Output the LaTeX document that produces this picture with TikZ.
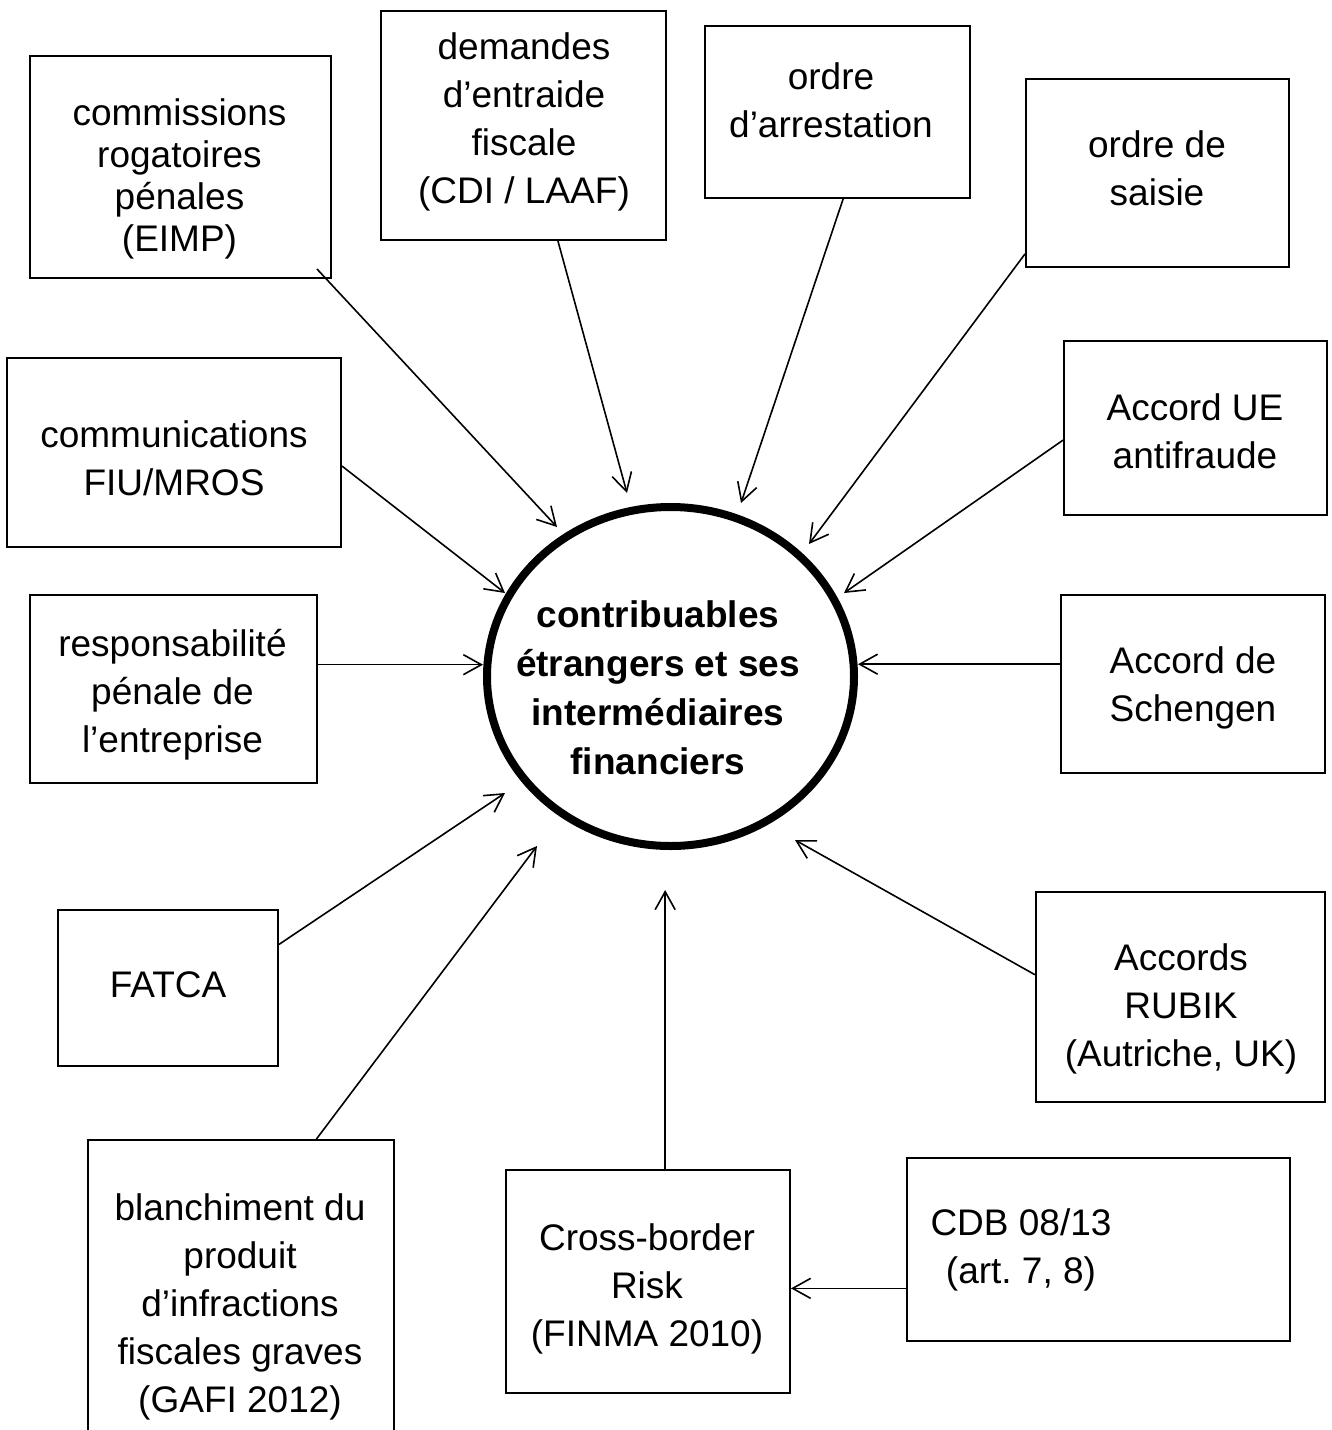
\documentclass[tikz,border=0pt]{standalone}
\usepackage{fontspec}
\setmainfont{Liberation Sans}
\usetikzlibrary{arrows.meta,calc,shapes.geometric}
% line struts: equal room above and below the visual middle of a line
\newcommand{\lnA}{\rule[-11.5pt]{0pt}{48pt}}
\newcommand{\lnB}{\rule[-8.5pt]{0pt}{42pt}}
\newcommand{\lnC}{\rule[-12pt]{0pt}{49pt}}
\begin{document}
\begin{tikzpicture}[x=1pt,y=-1pt,
  frame/.style={draw, line width=2pt, inner sep=0pt},
  txt/.style={inner sep=0pt, align=center, font=\fontsize{37}{48}\selectfont},
  txtB/.style={inner sep=0pt, align=center, font=\fontsize{37}{42}\selectfont},
  arr/.style={line width=1.6pt, -{Straight Barb[length=18pt,width=20pt,line width=1.6pt]}}]
\path[use as bounding box] (0,0) rectangle (1332,1430);
\clip (0,0) rectangle (1332,1430);

% central ellipse
\node[draw, ellipse, line width=8pt, minimum width=367pt, minimum height=339pt] (ctr) at (670.5,676.5) {};
\node[txt, font=\fontsize{37}{49}\selectfont\bfseries] (ctr-t) at (658,688)
  {\lnC contribuables\\\lnC étrangers et ses\\\lnC intermédiaires\\\lnC financiers};

% frames
\node[frame, minimum width=301pt, minimum height=222pt] (com) at (180.5,167) {};
\node[frame, minimum width=285pt, minimum height=229pt] (dem) at (523.5,125.5) {};
\node[frame, minimum width=265pt, minimum height=172pt] (ord) at (837.5,112) {};
\node[frame, minimum width=263pt, minimum height=188pt] (sai) at (1157.5,173) {};
\node[frame, minimum width=263pt, minimum height=174pt] (ue) at (1195.5,428) {};
\node[frame, minimum width=264pt, minimum height=178pt] (sch) at (1193,684) {};
\node[frame, minimum width=289pt, minimum height=210pt] (rub) at (1180.5,997) {};
\node[frame, minimum width=383pt, minimum height=183pt] (cdb) at (1098.5,1249.5) {};
\node[frame, minimum width=284pt, minimum height=223pt] (cbr) at (648,1281.5) {};
\node[frame, minimum width=306pt, minimum height=330pt] (bla) at (241,1305) {};
\node[frame, minimum width=220pt, minimum height=156pt] (fat) at (168,988) {};
\node[frame, minimum width=287pt, minimum height=188pt] (res) at (173.5,689) {};
\node[frame, minimum width=334pt, minimum height=189pt] (cmf) at (174,452.5) {};

% labels
\node[txtB] (com-t) at (179.5,176) {\lnB commissions\\\lnB rogatoires\\\lnB pénales\\\lnB (EIMP)};
\node[txt] (dem-t) at (524,119) {\lnA demandes\\\lnA d’entraide\\\lnA fiscale\\\lnA (CDI / LAAF)};
\node[txt] (ord-t) at (831,101) {\lnA ordre\\\lnA d’arrestation};
\node[txt] (sai-t) at (1157,169) {\lnA ordre de\\\lnA saisie};
\node[txt] (ue-t) at (1195,431.5) {\lnA Accord UE\\\lnA antifraude};
\node[txt] (sch-t) at (1193,685) {\lnA Accord de\\\lnA Schengen};
\node[txt] (rub-t) at (1181,1005.5) {\lnA Accords\\\lnA RUBIK\\\lnA (Autriche, UK)};
\node[txt] (cdb-t) at (1021,1247) {\lnA CDB 08/13\\\lnA (art.\ 7, 8)};
\node[txt] (cbr-t) at (647,1286) {\lnA Cross-border\\\lnA Risk\\\lnA (FINMA 2010)};
\node[txt] (bla-t) at (240,1304) {\lnA blanchiment du\\\lnA produit\\\lnA d’infractions\\\lnA fiscales graves\\\lnA (GAFI 2012)};
\node[txt] (fat-t) at (168,985) {\lnA FATCA};
\node[txt] (res-t) at (172.5,691.5) {\lnA responsabilité\\\lnA pénale de\\\lnA l’entreprise};
\node[txt] (cmf-t) at (174,459) {\lnA communications\\\lnA FIU/MROS};

% arrow tips around the ellipse
\coordinate (tcom) at (557,527);
\coordinate (tdem) at (627,493);
\coordinate (tord) at (741,503);
\coordinate (tsai) at (809,544);
\coordinate (tue) at (844,593);
\coordinate (tsch) at (858,664);
\coordinate (trub) at (795,840);
\coordinate (tcbr) at (665,890);
\coordinate (tbla) at (537,846);
\coordinate (tfat) at (505,793);
\coordinate (tres) at (483,665);
\coordinate (tcmf) at (505,593);

% arrow tails on the frames
\coordinate (com-o) at ($(com.south east)+(-15,-10)$);
\coordinate (dem-o) at ($(dem.south west)!0.62!(dem.south east)$);
\coordinate (ord-o) at ($(ord.south west)!0.521!(ord.south east)$);
\coordinate (sai-o) at ($(sai.north west)!0.926!(sai.south west)$);
\coordinate (ue-o) at ($(ue.north west)!0.569!(ue.south west)$);
\coordinate (sch-o) at ($(sch.north west)!0.39!(sch.south west)$);
\coordinate (rub-o) at ($(rub.north west)!0.395!(rub.south west)$);
\coordinate (cdb-o) at ($(cdb.north west)!0.71!(cdb.south west)$);
\coordinate (cbr-o) at ($(cbr.north west)!0.56!(cbr.north east)$);
\coordinate (bla-o) at ($(bla.north west)!0.745!(bla.north east)$);
\coordinate (fat-o) at ($(fat.north east)!0.224!(fat.south east)$);
\coordinate (res-o) at ($(res.north east)!0.372!(res.south east)$);
\coordinate (cmf-o) at ($(cmf.north east)!0.571!(cmf.south east)$);

% connectors
\draw[arr] (com-o) -- (tcom);
\draw[arr] (dem-o) -- (tdem);
\draw[arr] (ord-o) -- (tord);
\draw[arr] (sai-o) -- (tsai);
\draw[arr] (ue-o) -- (tue);
\draw[arr] (sch-o) -- (sch-o -| tsch);
\draw[arr] (rub-o) -- (trub);
\draw[arr] (cbr-o) -- (cbr-o |- tcbr);
\draw[arr] (cdb-o) -- (cdb-o -| cbr.east);
\draw[arr] (bla-o) -- (tbla);
\draw[arr] (fat-o) -- (tfat);
\draw[arr] (res-o) -- (res-o -| tres);
\draw[arr] (cmf-o) -- (tcmf);
\end{tikzpicture}
\end{document}
